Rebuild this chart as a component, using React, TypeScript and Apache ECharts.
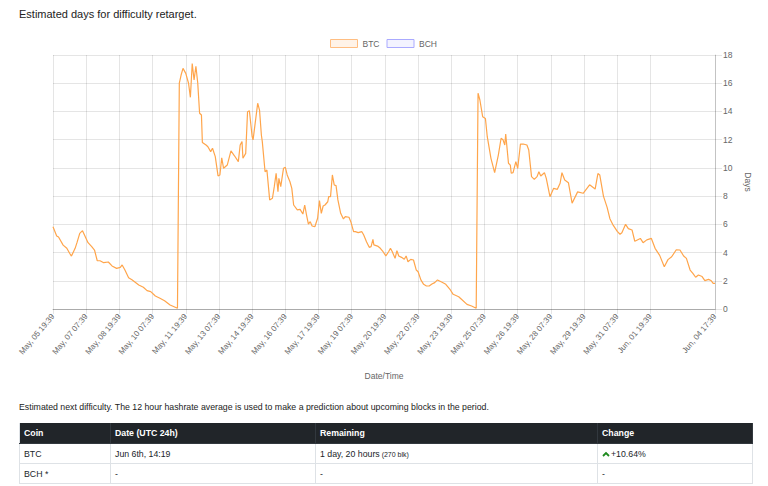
import React, { useEffect, useRef } from "react";
import * as echarts from "echarts";

// Hour offsets from the first sample (May, 05 19:39) and estimated days
const hoursFromStart = [
  0, 4, 6, 11, 15, 18, 20, 24, 26, 29, 32, 35, 38, 42, 45, 48, 51, 55, 60, 64, 69, 73, 75, 78, 82, 86, 93, 98, 102, 106, 111, 116, 121, 127, 135,
  137, 139, 141, 144, 147, 149, 151, 153, 155, 157, 159, 161, 162, 166, 168, 171, 173, 176, 179, 181, 183, 185, 189, 193, 197, 201, 203, 205, 206, 209,
  211, 213, 216, 217, 222, 224, 226, 227, 230, 232, 235, 238, 240, 242, 244, 245, 247, 250, 252, 254, 257, 259, 261, 265, 268, 271, 273, 275, 277, 279,
  281, 284, 287, 289, 291, 293, 295, 298, 299, 301, 303, 305, 307, 309, 312, 315, 317, 321, 323, 326, 328, 331, 335, 337, 340, 343, 345, 347, 348, 352,
  355, 358, 361, 364, 366, 368, 371, 373, 375, 378, 381, 383, 385, 388, 391, 394, 396, 399, 402, 405, 408, 411, 414, 417, 422, 426, 431, 434, 440, 443,
  449, 454, 459, 461, 463, 466, 469, 471, 475, 479, 483, 486, 488, 490, 491, 494, 496, 497, 499, 502, 504, 507, 510, 514, 516, 519, 522, 525, 527, 529,
  533, 535, 539, 543, 547, 550, 552, 555, 559, 563, 569, 575, 582, 588, 591, 593, 597, 601, 604, 607, 612, 615, 617, 621, 624, 628, 631, 637, 640, 644,
  649, 653, 658, 663, 667, 671, 676, 680, 684, 687, 691, 694, 697, 700, 704, 707, 711, 714, 716, 718,
];
const btcDays = [
  5.83, 5.17, 5.1, 4.53, 4.3, 3.95, 3.75, 4.3, 4.7, 5.36, 5.55, 5.12, 4.7, 4.42, 4.18, 3.42, 3.42, 3.28, 3.33, 3.05, 2.88, 2.95, 3.12, 2.76, 2.22, 2.05, 1.7, 1.54, 1.3, 1.23, 0.92, 0.76, 0.59, 0.28, 0.05,
  16.0, 16.6, 17.05, 16.7, 16.0, 15.0, 17.4, 16.23, 17.2, 16.0, 13.87, 13.75, 11.8, 11.62, 11.5, 11.15, 11.39, 10.8, 9.43, 9.5, 10.72, 9.97, 10.2, 11.2, 10.84, 10.44, 11.62, 11.86, 10.68, 11.03,
  13.98, 14.05, 12.21, 11.98, 14.58, 14.1, 12.33, 11.86, 9.73, 9.85, 7.73, 7.85, 8.67, 9.62, 8.31, 9.26, 8.67, 9.97, 10.04, 9.5, 9.02, 8.55, 7.37, 7.02, 7.06, 6.73, 7.37, 6.66, 6.02, 6.19,
  5.88, 5.83, 6.43, 7.68, 6.78, 7.3, 7.37, 7.6, 7.96, 7.96, 9.5, 8.79, 8.74, 7.73, 6.78, 6.38, 6.54, 6.5, 6.19, 5.48, 5.48, 5.41, 5.48, 5.24, 4.77, 4.37, 4.42, 4.94, 4.54, 4.46,
  4.3, 4.06, 3.76, 4.06, 4.3, 4.06, 3.59, 4.13, 3.76, 3.66, 3.52, 3.76, 3.35, 3.52, 3.47, 2.76, 2.64, 2.06, 1.75, 1.63, 1.63, 1.77, 1.87, 2.06, 1.89, 1.75, 1.35, 1.04, 0.87, 0.69,
  0.33, 0.21, 0.05, 15.29, 14.81, 13.63, 13.5, 12.21, 10.68, 9.66, 10.91, 12.1, 12.0, 11.62, 12.4, 10.33, 10.2, 9.62, 9.66, 10.44, 9.97, 11.69, 11.69, 11.62, 11.27, 9.38, 9.19, 9.38, 9.73, 9.43,
  9.66, 9.26, 7.96, 8.55, 8.48, 8.91, 9.66, 9.14, 8.95, 7.5, 8.3, 8.2, 8.8, 8.5, 9.6, 9.5, 8.0, 7.2, 6.4, 6.0, 5.5, 5.3, 5.4, 6.0, 5.7, 5.6, 4.8, 5.0, 4.7, 4.9,
  5.0, 4.3, 3.8, 3.0, 3.5, 3.7, 4.2, 4.18, 3.76, 3.59, 2.76, 2.53, 2.25, 2.41, 2.3, 2.01, 2.1, 2.0, 1.82, 1.82,
];
const bchDays: number[] = [];

const seriesNames = ["BTC", "BCH"];
const totalHours = 718;
const labelStepHours = 36;
const lastLabelledStep = 648;
const monthNames = ["Jan", "Feb", "Mar", "Apr", "May", "Jun", "Jul", "Aug", "Sep", "Oct", "Nov", "Dec"];
const startUtc = Date.UTC(2018, 4, 5, 19, 39);

const pad = (n: number) => (n < 10 ? "0" + n : "" + n);
const categories: string[] = [];
for (let h = 0; h <= totalHours; h++) {
  const d = new Date(startUtc + h * 3600000);
  categories.push(
    `${monthNames[d.getUTCMonth()]}, ${pad(d.getUTCDate())} ${pad(d.getUTCHours())}:${pad(d.getUTCMinutes())}`
  );
}

const tableHead = ["Coin", "Date (UTC 24h)", "Remaining", "Change"];
const tableRows = [
  { coin: "BTC", date: "Jun 6th, 14:19", remaining: "1 day, 20 hours", blocks: "(270 blk)", change: "+10.64%" },
  { coin: "BCH *", date: "-", remaining: "-", blocks: "", change: "-" },
];

const showTick = (idx: number) => (idx % labelStepHours === 0 && idx <= lastLabelledStep) || idx === totalHours;

const FONT = "Arial, 'Liberation Sans', Helvetica, sans-serif";
const GRID = "rgba(0,0,0,0.1)";
const AXIS_FONT = 8;
const NAME_FONT = 8.5;

function Chart() {
  const ref = useRef<HTMLDivElement>(null);
  useEffect(() => {
    if (!ref.current) return;
    const chart = echarts.init(ref.current, undefined, { renderer: "svg" });
    chart.setOption({
      animation: false,
      textStyle: { fontFamily: FONT },
      legend: {
        top: 9,
        left: 330,
        padding: 0,
        itemWidth: 27,
        itemHeight: 8,
        itemGap: 7,
        textStyle: { fontSize: NAME_FONT, color: "#666", fontFamily: FONT },
        data: [
          { name: seriesNames[0], icon: "rect", itemStyle: { color: "rgba(255,159,64,0.12)", borderColor: "rgb(255,190,130)", borderWidth: 1 } },
          { name: seriesNames[1], icon: "rect", itemStyle: { color: "rgba(153,153,255,0.12)", borderColor: "rgb(170,170,255)", borderWidth: 1 } },
        ],
      },
      grid: { left: 53, right: 53, top: 25, bottom: 81, containLabel: false },
      xAxis: {
        type: "category",
        data: categories,
        boundaryGap: false,
        name: "Date/Time",
        nameLocation: "middle",
        nameGap: 62,
        nameTextStyle: { fontSize: NAME_FONT, color: "#666", fontFamily: FONT },
        axisLine: { lineStyle: { color: "rgba(0,0,0,0.25)", width: 1 } },
        axisTick: { show: true, interval: (i: number) => showTick(i), length: 5, lineStyle: { color: GRID } },
        axisLabel: { interval: (i: number) => showTick(i), rotate: 50, fontSize: AXIS_FONT, color: "#666", margin: 6, fontFamily: FONT },
        splitLine: { show: true, interval: (i: number) => showTick(i), lineStyle: { color: GRID, width: 1 } },
      },
      yAxis: {
        type: "value",
        position: "right",
        min: 0,
        max: 18,
        interval: 2,
        name: "Days",
        nameLocation: "middle",
        nameRotate: -90,
        nameGap: 25,
        nameTextStyle: { fontSize: NAME_FONT, color: "#666", fontFamily: FONT },
        axisLine: { show: true, lineStyle: { color: "rgba(0,0,0,0.15)" } },
        axisTick: { show: true, length: 7, lineStyle: { color: GRID } },
        axisLabel: { fontSize: NAME_FONT, color: "#666", margin: 8, fontFamily: FONT },
        splitLine: { show: true, lineStyle: { color: GRID } },
      },
      series: [
        {
          name: seriesNames[0],
          type: "line",
          data: hoursFromStart.map((h, i) => [h, btcDays[i]]),
          showSymbol: false,
          symbol: "none",
          color: "rgb(255,159,64)",
          lineStyle: { color: "rgb(255,165,75)", width: 1.2 },
        },
        {
          name: seriesNames[1],
          type: "line",
          data: bchDays,
          showSymbol: false,
          color: "rgb(153,153,255)",
          lineStyle: { color: "rgb(153,153,255)", width: 1.2 },
        },
      ],
    });
    return () => chart.dispose();
  }, []);
  return <div ref={ref} style={{ position: "absolute", left: 0, top: 30, width: 768, height: 360 }} />;
}

const colWidths = [91, 205, 282, 155];

export default function App() {
  const cell: React.CSSProperties = {
    padding: "0 0 0 4px",
    textAlign: "left",
    verticalAlign: "middle",
    borderRight: "1px solid #dee2e6",
    borderBottom: "1px solid #dee2e6",
  };
  const head: React.CSSProperties = {
    ...cell,
    background: "#212529",
    color: "#fff",
    fontWeight: "bold",
    borderRight: "1px solid #32383e",
    borderBottom: "1px solid #32383e",
    height: 20,
  };
  return (
    <div style={{ position: "fixed", left: 0, top: 0, width: 768, height: 486, background: "#fff", fontFamily: FONT, color: "#212529", overflow: "hidden" }}>
      <div style={{ position: "absolute", left: 19, top: 8, fontSize: 11, lineHeight: "13px", color: "#222" }}>
        Estimated days for difficulty retarget.
      </div>
      <Chart />
      <div style={{ position: "absolute", left: 19, top: 401, fontSize: 8.75, lineHeight: "12px", color: "#222" }}>
        Estimated next difficulty. The 12 hour hashrate average is used to make a prediction about upcoming blocks in the period.
      </div>
      <table
        style={{
          position: "absolute",
          left: 19,
          top: 423,
          width: 733,
          borderCollapse: "collapse",
          fontSize: 8.75,
          tableLayout: "fixed",
          borderLeft: "1px solid #dee2e6",
        }}
      >
        <colgroup>
          {colWidths.map((w, i) => (
            <col key={i} style={{ width: w }} />
          ))}
        </colgroup>
        <thead>
          <tr>
            {tableHead.map((h) => (
              <th key={h} style={head}>
                {h}
              </th>
            ))}
          </tr>
        </thead>
        <tbody>
          {tableRows.map((r) => (
            <tr key={r.coin} style={{ height: 20 }}>
              <td style={cell}>{r.coin}</td>
              <td style={cell}>{r.date}</td>
              <td style={cell}>
                {r.remaining}
                {r.blocks ? <span style={{ fontSize: 7 }}> {r.blocks}</span> : null}
              </td>
              <td style={cell}>
                {r.change !== "-" ? (
                  <svg width="8" height="6" viewBox="0 0 8 6" style={{ marginRight: 1, verticalAlign: "middle" }}>
                    <polyline points="1,5 4,2 7,5" fill="none" stroke="#1e8a1e" strokeWidth="1.8" />
                  </svg>
                ) : null}
                {r.change}
              </td>
            </tr>
          ))}
        </tbody>
      </table>
    </div>
  );
}
